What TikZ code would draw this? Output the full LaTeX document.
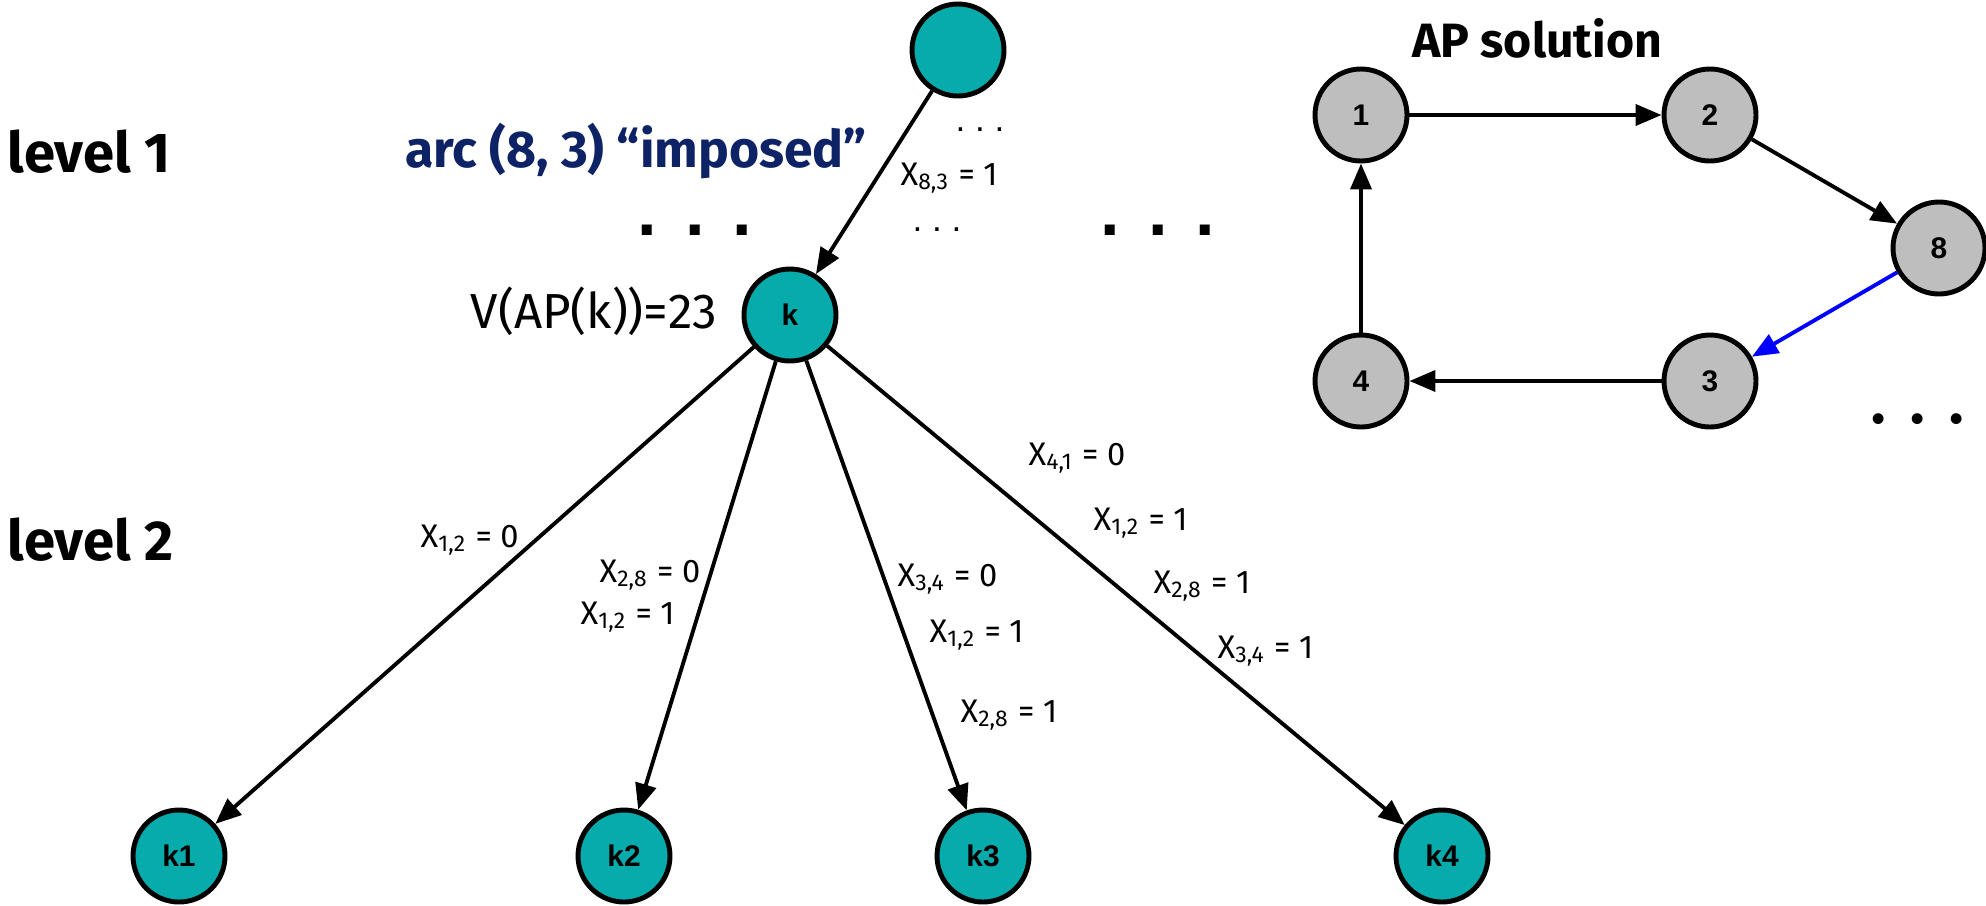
\documentclass[tikz,border=0pt]{standalone}
\usepackage{fontspec}
\setmainfont{Fira Sans}
\newfontfamily\arialfont{Liberation Sans}
\usetikzlibrary{arrows.meta,positioning}
\definecolor{tealnode}{HTML}{07ABAB}
\definecolor{apgray}{HTML}{BEBEBE}
\definecolor{navy}{HTML}{0E2266}
\definecolor{imposed}{HTML}{0000FF}

\begin{document}
\begin{tikzpicture}[>={Triangle[length=0.26cm,width=0.21cm]},
  bbnode/.style={circle,draw=black,line width=1.4pt,fill=tealnode,minimum size=0.92cm,
    inner sep=0pt,font=\arialfont\bfseries\fontsize{8.5}{10}\selectfont},
  apnode/.style={bbnode,fill=apgray},
  branch/.style={->,line width=1.1pt},
  lvl/.style={anchor=base west,inner sep=0pt,font=\bfseries\fontsize{16}{19}\selectfont},
  fixlab/.style={anchor=base west,inner sep=0pt,font=\fontsize{9.3}{11}\selectfont},
  bigdots/.style={inner sep=0pt,font=\arialfont\bfseries\fontsize{20}{20}\selectfont},
  smalldots/.style={inner sep=0pt,font=\arialfont\fontsize{10}{10}\selectfont}]
\useasboundingbox (0,0) rectangle (19.86,9.05);
% branch-and-bound tree
\node[bbnode] (root) at (9.58,8.55) {};
\node[bbnode] (k) at (7.90,5.90) {k};
\node[bbnode] (k1) at (1.79,0.49) {k1};
\node[bbnode] (k2) at (6.24,0.49) {k2};
\node[bbnode] (k3) at (9.83,0.49) {k3};
\node[bbnode] (k4) at (14.42,0.49) {k4};
\draw[branch] (root) -- (k);
\foreach \child in {k1,k2,k3,k4}
  \draw[branch] (k) -- (\child);
\node[lvl] (lvl1) at (0.07,7.33) {level 1};
\node[lvl] (lvl2) at (0.07,3.45) {level 2};
\node[anchor=base,inner sep=0pt,text=navy,font=\bfseries\fontsize{14.7}{17}\selectfont] (arcnote) at (6.36,7.38) {arc (8, 3) “imposed”};
\node[anchor=base,inner sep=0pt,font=\fontsize{14}{16}\selectfont] (vapk) at (5.94,5.77) {V(AP(k))=23};
\node[fixlab] (f83) at (9.00,7.20) {X\textsubscript{8,3} = 1};
\node[smalldots,anchor=base] (dotsa) at (9.80,7.74) {.\ .\ .};
\node[smalldots,anchor=base] (dotsb) at (9.37,6.74) {.\ .\ .};
\node[bigdots,anchor=base] (dotsl) at (6.95,6.70) {.\hspace{8pt}.\hspace{8pt}.};
\node[bigdots,anchor=base] (dotsr) at (11.58,6.70) {.\hspace{8pt}.\hspace{8pt}.};
% fixings along each branch
\node[fixlab] (a1) at (4.20,3.58) {X\textsubscript{1,2} = 0};
\node[fixlab] (b1) at (5.99,3.23) {X\textsubscript{2,8} = 0};
\node[fixlab] (b2) at (5.80,2.81) {X\textsubscript{1,2} = 1};
\node[fixlab] (c1) at (8.97,3.19) {X\textsubscript{3,4} = 0};
\node[fixlab] (c2) at (9.29,2.63) {X\textsubscript{1,2} = 1};
\node[fixlab] (c3) at (9.60,1.83) {X\textsubscript{2,8} = 1};
\node[fixlab] (d1) at (10.28,4.40) {X\textsubscript{4,1} = 0};
\node[fixlab] (d2) at (10.93,3.75) {X\textsubscript{1,2} = 1};
\node[fixlab] (d3) at (11.53,3.12) {X\textsubscript{2,8} = 1};
\node[fixlab] (d4) at (12.17,2.47) {X\textsubscript{3,4} = 1};
% AP solution subtour
\node[anchor=base,inner sep=0pt,font=\bfseries\fontsize{13.7}{16}\selectfont] (aptitle) at (15.37,8.48) {AP solution};
\node[apnode] (n1) at (13.61,7.90) {1};
\node[apnode] (n2) at (17.10,7.90) {2};
\node[apnode] (n8) at (19.39,6.57) {8};
\node[apnode] (n3) at (17.10,5.24) {3};
\node[apnode] (n4) at (13.61,5.24) {4};
\draw[branch] (n1) -- (n2);
\draw[branch] (n2) -- (n8);
\draw[branch,imposed] (n8) -- (n3);
\draw[branch] (n3) -- (n4);
\draw[branch] (n4) -- (n1);
\node[anchor=base,inner sep=0pt,font=\bfseries\fontsize{17}{17}\selectfont] (dotsap) at (19.18,4.82) {.\hspace{7pt}.\hspace{7pt}.};
\end{tikzpicture}
\end{document}
